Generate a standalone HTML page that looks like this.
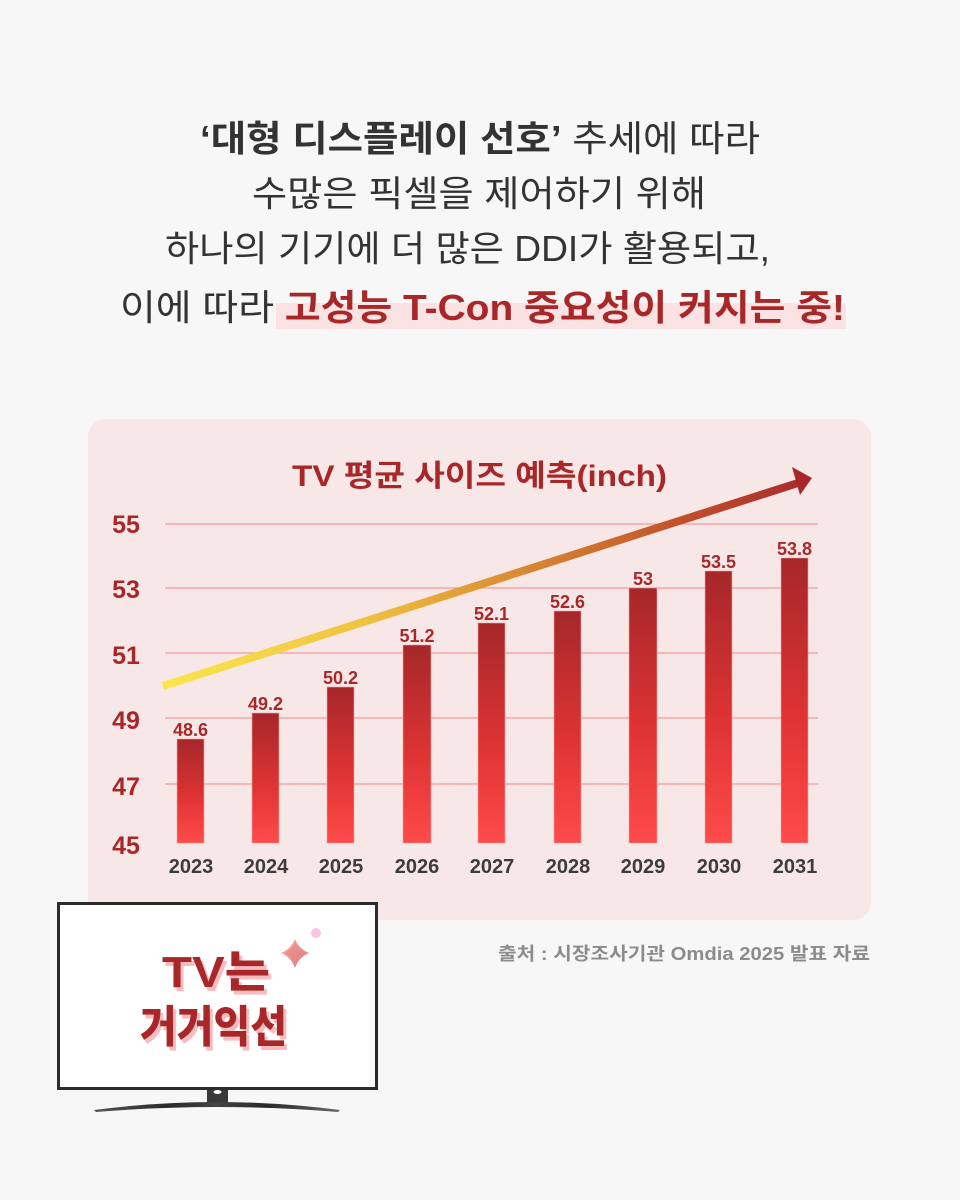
<!DOCTYPE html>
<html>
<head>
<meta charset="utf-8">
<style>
html,body{margin:0;padding:0;background:#f7f7f7;}
body{width:960px;height:1200px;overflow:hidden;}
svg{display:block;}
text{font-family:"Liberation Sans","Noto Sans CJK KR",sans-serif;}
</style>
</head>
<body>
<svg width="960" height="1200" viewBox="0 0 960 1200" xmlns="http://www.w3.org/2000/svg">
  <defs>
    <linearGradient id="bar" x1="0" y1="0" x2="0" y2="1">
      <stop offset="0" stop-color="#a6272a"/>
      <stop offset="0.55" stop-color="#de3333"/>
      <stop offset="1" stop-color="#ff4a4a"/>
    </linearGradient>
    <linearGradient id="arr" gradientUnits="userSpaceOnUse" x1="163" y1="686" x2="812" y2="478">
      <stop offset="0" stop-color="#fae64d"/>
      <stop offset="0.3" stop-color="#f0c440"/>
      <stop offset="0.55" stop-color="#d98a33"/>
      <stop offset="0.8" stop-color="#c0502c"/>
      <stop offset="1" stop-color="#a8282a"/>
    </linearGradient>
    <linearGradient id="spark" x1="0" y1="0" x2="1" y2="1">
      <stop offset="0" stop-color="#f6b3ad"/>
      <stop offset="1" stop-color="#de7474"/>
    </linearGradient>
    <linearGradient id="base" x1="0" y1="0" x2="1" y2="0">
      <stop offset="0" stop-color="#555"/>
      <stop offset="0.3" stop-color="#2a2a2a"/>
      <stop offset="0.5" stop-color="#444"/>
      <stop offset="0.7" stop-color="#2a2a2a"/>
      <stop offset="1" stop-color="#666"/>
    </linearGradient>
  </defs>

  <rect x="0" y="0" width="960" height="1200" fill="#f7f7f7"/>

  <!-- Header -->
  <rect x="276" y="303" width="570" height="26" fill="#fce3e3"/>
  <text x="200" y="151" font-size="36" fill="#333" textLength="560" lengthAdjust="spacingAndGlyphs"><tspan font-weight="700">‘대형 디스플레이 선호’</tspan> 추세에 따라</text>
  <text x="252" y="206" font-size="36" fill="#333" textLength="454" lengthAdjust="spacingAndGlyphs">수많은 픽셀을 제어하기 위해</text>
  <text x="165" y="261" font-size="36" fill="#333" textLength="605" lengthAdjust="spacingAndGlyphs">하나의 기기에 더 많은 DDI가 활용되고,</text>
  <text x="120" y="320" font-size="36" fill="#333" textLength="725" lengthAdjust="spacingAndGlyphs">이에 따라 <tspan font-weight="700" fill="#a8282a">고성능 T-Con 중요성이 커지는 중!</tspan></text>

  <!-- Chart panel -->
  <rect x="88" y="419" width="783" height="501" rx="18" ry="18" fill="#f8e7e7"/>

  <text x="292" y="486" font-size="30" font-weight="700" fill="#a8282a" textLength="375" lengthAdjust="spacingAndGlyphs">TV 평균 사이즈 예측(inch)</text>

  <!-- gridlines -->
  <g stroke="#f39a9a" stroke-width="1.2">
    <line x1="165" y1="524" x2="818" y2="524"/>
    <line x1="165" y1="588" x2="818" y2="588"/>
    <line x1="165" y1="653" x2="818" y2="653"/>
    <line x1="165" y1="718" x2="818" y2="718"/>
    <line x1="165" y1="784" x2="818" y2="784"/>
  </g>

  <!-- y labels -->
  <g font-size="25" font-weight="700" fill="#a8282a" text-anchor="middle">
    <text x="126" y="533">55</text>
    <text x="126" y="598">53</text>
    <text x="126" y="664">51</text>
    <text x="126" y="729">49</text>
    <text x="126" y="795">47</text>
    <text x="126" y="854">45</text>
  </g>

  <!-- bars -->
  <g fill="url(#bar)" stroke="#f2a0a0" stroke-width="0.6">
    <rect x="177" y="739" width="27" height="104"/>
    <rect x="252" y="713" width="27" height="130"/>
    <rect x="327" y="687" width="27" height="156"/>
    <rect x="403" y="645" width="28" height="198"/>
    <rect x="478" y="623" width="27" height="220"/>
    <rect x="554" y="611" width="27" height="232"/>
    <rect x="629" y="588" width="28" height="255"/>
    <rect x="705" y="571" width="27" height="272"/>
    <rect x="781" y="558" width="27" height="285"/>
  </g>

  <!-- value labels -->
  <g font-size="18" font-weight="700" fill="#a8282a" text-anchor="middle">
    <text x="190.5" y="736">48.6</text>
    <text x="265.5" y="710">49.2</text>
    <text x="340.5" y="684">50.2</text>
    <text x="417" y="642">51.2</text>
    <text x="491.5" y="620">52.1</text>
    <text x="567.5" y="608">52.6</text>
    <text x="643" y="585">53</text>
    <text x="718.5" y="568">53.5</text>
    <text x="794.5" y="555">53.8</text>
  </g>

  <!-- year labels -->
  <g font-size="20" font-weight="700" fill="#3c3c3c" text-anchor="middle">
    <text x="191" y="873">2023</text>
    <text x="266" y="873">2024</text>
    <text x="341" y="873">2025</text>
    <text x="417" y="873">2026</text>
    <text x="492" y="873">2027</text>
    <text x="568" y="873">2028</text>
    <text x="643" y="873">2029</text>
    <text x="719" y="873">2030</text>
    <text x="795" y="873">2031</text>
  </g>

  <!-- arrow -->
  <line x1="163" y1="686" x2="798" y2="483" stroke="url(#arr)" stroke-width="8"/>
  <polygon points="812,478 792,467 800,495" fill="#a8282a"/>

  <!-- source -->
  <text x="498" y="960" font-size="18" font-weight="700" fill="#8c8c8c" textLength="372" lengthAdjust="spacingAndGlyphs">출처 : 시장조사기관 Omdia  2025 발표 자료</text>

  <!-- TV -->
  <rect x="58.5" y="903.5" width="318" height="185" fill="#ffffff" stroke="#2b2b2b" stroke-width="3"/>
  <rect x="207" y="1090" width="21" height="13" fill="#3a3a3a"/>
  <ellipse cx="217.5" cy="1092" rx="4" ry="2" fill="#ffffff"/>
  <path d="M94,1110 Q217,1094 340,1110 L338,1112 Q217,1102 96,1112 Z" fill="url(#base)"/>

  <!-- TV text with shadow -->
  <g font-size="44" font-weight="900" text-anchor="start">
    <text x="165" y="991" fill="#f6bcbf" textLength="108" lengthAdjust="spacingAndGlyphs">TV는</text>
    <text x="162" y="987" fill="#a8282a" textLength="108" lengthAdjust="spacingAndGlyphs">TV는</text>
    <text x="143" y="1046" fill="#f6bcbf" textLength="147" lengthAdjust="spacingAndGlyphs">거거익선</text>
    <text x="140" y="1042" fill="#a8282a" textLength="147" lengthAdjust="spacingAndGlyphs">거거익선</text>
  </g>

  <!-- sparkle -->
  <path d="M295,939 Q299,949 309,953 Q299,957 295,968 Q291,957 281,953 Q291,949 295,939 Z" fill="url(#spark)"/>
  <path d="M295,942 Q297.5,950 305,953 Q297.5,956 295,964 Q292.5,956 285,953 Q292.5,950 295,942 Z" fill="#e98583" opacity="0.6"/>
  <circle cx="316" cy="933" r="5" fill="#f8c6e0"/>
</svg>
</body>
</html>
